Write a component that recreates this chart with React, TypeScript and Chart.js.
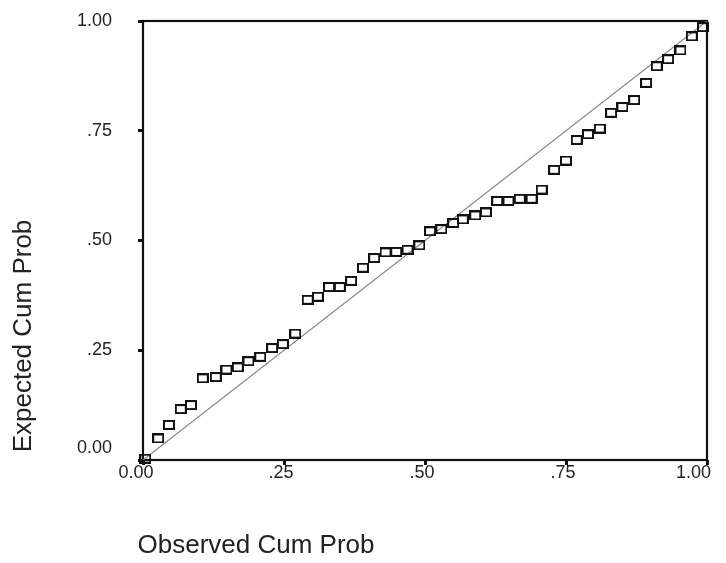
import React, { useEffect, useRef } from "react";
import { Chart, registerables } from "chart.js";

Chart.register(...registerables);

// Observed cumulative probability (x) for each residual point
const observedCumProb = [
  0.004, 0.027, 0.046, 0.067, 0.085, 0.106, 0.129, 0.148, 0.168, 0.187,
  0.208, 0.229, 0.248, 0.27, 0.292, 0.31, 0.33, 0.349, 0.369, 0.39,
  0.41, 0.43, 0.449, 0.469, 0.49, 0.509, 0.529, 0.55, 0.567, 0.589,
  0.608, 0.628, 0.648, 0.668, 0.689, 0.707, 0.729, 0.75, 0.769, 0.789,
  0.81, 0.83, 0.85, 0.871, 0.892, 0.911, 0.931, 0.953, 0.973, 0.993,
];

// Expected cumulative probability (y)
const expectedCumProb = [
  0.003, 0.049, 0.08, 0.116, 0.125, 0.186, 0.189, 0.206, 0.211, 0.225,
  0.235, 0.255, 0.264, 0.288, 0.365, 0.372, 0.394, 0.394, 0.408, 0.438,
  0.46, 0.473, 0.474, 0.479, 0.489, 0.521, 0.526, 0.54, 0.548, 0.557,
  0.564, 0.59, 0.59, 0.595, 0.595, 0.616, 0.661, 0.682, 0.729, 0.742,
  0.755, 0.791, 0.804, 0.82, 0.859, 0.897, 0.913, 0.933, 0.965, 0.986,
];

const referenceX = [0, 1];
const referenceY = [0, 1];

const axisTicks = [0, 0.25, 0.5, 0.75, 1];
const tickLabels = ["0.00", ".25", ".50", ".75", "1.00"];
const xTitle = "Observed Cum Prob";
const yTitle = "Expected Cum Prob";

const FONT = '"Liberation Sans", Arial, Helvetica, sans-serif';
const TEXT = "#222";

function makeMarker(): HTMLCanvasElement {
  const c = document.createElement("canvas");
  c.width = 12;
  c.height = 10;
  const g = c.getContext("2d");
  if (g) {
    g.strokeStyle = "#111";
    g.lineWidth = 2;
    g.strokeRect(1, 1, 10, 8);
  }
  return c;
}

const framePlugin = {
  id: "ppFrame",
  beforeDatasetsDraw(chart: any) {
    const { ctx, chartArea } = chart;
    ctx.save();
    ctx.strokeStyle = "#111";
    ctx.lineWidth = 2.2;
    ctx.strokeRect(
      chartArea.left,
      chartArea.top,
      chartArea.right - chartArea.left,
      chartArea.bottom - chartArea.top
    );
    ctx.restore();
  },
  afterDraw(chart: any) {
    const { ctx, chartArea, scales } = chart;
    const xs = scales.x;
    const ys = scales.y;
    ctx.save();
    ctx.fillStyle = TEXT;
    ctx.font = `18px ${FONT}`;
    ctx.textBaseline = "middle";

    // y tick labels
    ctx.textAlign = "right";
    axisTicks.forEach((v, i) => {
      let y = ys.getPixelForValue(v);
      if (i === 0) y -= 12;
      ctx.fillText(tickLabels[i], chartArea.left - 31, y);
    });

    // x tick labels
    const last = axisTicks.length - 1;
    axisTicks.forEach((v, i) => {
      const x = xs.getPixelForValue(v);
      const y = chartArea.bottom + 13;
      if (i === 0) {
        ctx.textAlign = "center";
        ctx.fillText(tickLabels[i], x - 7, y);
      } else if (i === last) {
        ctx.textAlign = "right";
        ctx.fillText(tickLabels[i], x + 4, y);
      } else {
        ctx.textAlign = "center";
        ctx.fillText(tickLabels[i], x - 3, y);
      }
    });

    // axis titles
    ctx.font = `26px ${FONT}`;
    ctx.textAlign = "center";
    ctx.fillText(xTitle, chartArea.left + 113, chartArea.bottom + 86);
    ctx.translate(24, chartArea.bottom - 124);
    ctx.rotate(-Math.PI / 2);
    ctx.fillText(yTitle, 0, 0);
    ctx.restore();
  },
};

export default function App() {
  const canvasRef = useRef<HTMLCanvasElement | null>(null);

  useEffect(() => {
    const canvas = canvasRef.current;
    if (!canvas) return;
    const points = observedCumProb.map((x, i) => ({ x, y: expectedCumProb[i] }));
    const line = referenceX.map((x, i) => ({ x, y: referenceY[i] }));
    const marker = makeMarker();

    const axis = (extra: any) => ({
      type: "linear",
      min: 0,
      max: 1,
      ticks: { stepSize: 0.25, display: false },
      border: { display: false },
      grid: {
        display: true,
        drawOnChartArea: false,
        drawTicks: true,
        tickLength: 5,
        tickWidth: 3,
        tickColor: "#111",
      },
      ...extra,
    });

    const chart = new Chart(canvas, {
      type: "scatter",
      data: {
        datasets: [
          {
            type: "line",
            data: line,
            borderColor: "#8a8a8a",
            borderWidth: 1.3,
            pointRadius: 0,
            fill: false,
            order: 2,
          } as any,
          {
            type: "scatter",
            data: points,
            pointStyle: marker,
            pointRadius: 6,
            borderColor: "#111",
            backgroundColor: "rgba(255,255,255,0)",
            clip: false,
            order: 1,
          } as any,
        ],
      },
      options: {
        responsive: false,
        animation: false,
        layout: {
          autoPadding: false,
          padding: { left: 138, top: 21, right: 19, bottom: 98 },
        },
        plugins: {
          legend: { display: false },
          tooltip: { enabled: false },
        },
        scales: {
          x: axis({ position: "bottom" }),
          y: axis({ position: "left" }),
        },
      } as any,
      plugins: [framePlugin],
    });
    return () => chart.destroy();
  }, []);

  return (
    <div
      style={{
        position: "absolute",
        left: 0,
        top: 0,
        width: 726,
        height: 563,
        background: "#ffffff",
      }}
    >
      <canvas ref={canvasRef} width={726} height={563} />
    </div>
  );
}
